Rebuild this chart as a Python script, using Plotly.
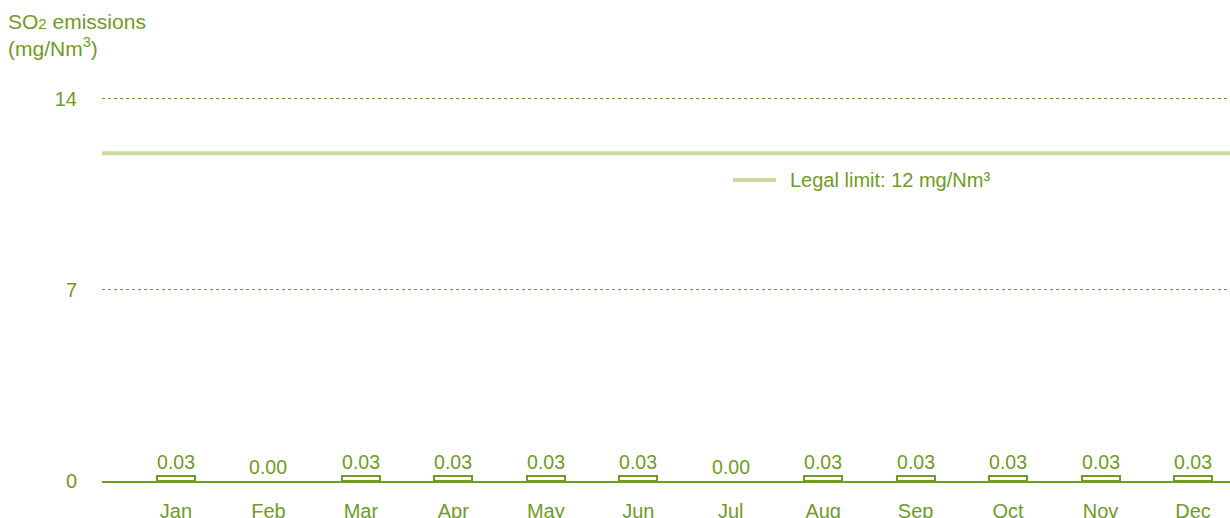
import plotly.graph_objects as go

months = ["Jan", "Feb", "Mar", "Apr", "May", "Jun", "Jul", "Aug", "Sep", "Oct", "Nov", "Dec"]
so2_values = [0.03, 0.00, 0.03, 0.03, 0.03, 0.03, 0.00, 0.03, 0.03, 0.03, 0.03, 0.03]
legal_limit = 12
y_ticks = [0, 7, 14]

GREEN = "#6f9b27"
LIGHT = "#c6dc9e"
FONT = "Liberation Sans, Arial, sans-serif"
FS = 20

xs = list(range(len(months)))
# minimum visible height so tiny values still show as an outlined bar
display_h = [max(v, 0.2) if v > 0 else 0 for v in so2_values]
line_w = [2 if v > 0 else 0 for v in so2_values]

fig = go.Figure()
fig.add_trace(go.Bar(
    x=xs, y=display_h, width=0.41,
    marker=dict(color="white", line=dict(color=GREEN, width=line_w)),
    text=[f"{v:.2f}" for v in so2_values], textposition="outside",
    textfont=dict(color=GREEN, size=FS, family=FONT),
    cliponaxis=False, showlegend=False, hoverinfo="skip",
))
x_range = [-0.80, 11.40]
fig.add_trace(go.Scatter(
    x=x_range, y=[legal_limit, legal_limit], mode="lines",
    line=dict(color=LIGHT, width=4), showlegend=False, hoverinfo="skip",
))

fig.update_layout(
    width=1230, height=518,
    margin=dict(l=102, r=0, t=96, b=37, autoexpand=False),
    paper_bgcolor="white", plot_bgcolor="white",
    font=dict(family=FONT, color=GREEN, size=FS),
    bargap=0,
    showlegend=False,
    xaxis=dict(range=x_range, tickmode="array", tickvals=xs, ticktext=months,
               automargin=False,
               showgrid=False, zeroline=False, showline=True, linecolor=GREEN, linewidth=2,
               ticks="outside", ticklen=11, tickcolor="rgba(0,0,0,0)",
               tickfont=dict(size=FS, color=GREEN, family=FONT), fixedrange=True),
    yaxis=dict(range=[0, 14.1], tickmode="array", tickvals=y_ticks, automargin=False,
               showgrid=True, gridcolor="#7a8f3a", griddash="dot", gridwidth=1,
               zeroline=False, showline=False, ticks="", ticklabelstandoff=24,
               tickfont=dict(size=FS, color=GREEN, family=FONT), fixedrange=True),
    shapes=[
        dict(type="line", xref="paper", yref="paper",
             x0=(733 - 102) / 1128, x1=(776 - 102) / 1128,
             y0=(481 - 180) / 385, y1=(481 - 180) / 385,
             line=dict(color=LIGHT, width=4)),
    ],
    annotations=[
        dict(xref="paper", yref="paper", x=(788 - 102) / 1128, y=(481 - 180) / 385,
             xanchor="left", yanchor="middle", showarrow=False,
             text="Legal limit: 12 mg/Nm³",
             font=dict(size=FS, color=GREEN, family=FONT)),
        dict(xref="paper", yref="paper", x=0, y=1, xshift=-96, yshift=88,
             xanchor="left", yanchor="top", align="left", showarrow=False,
             text='SO<span style="font-size:15px">2</span> emissions<br>(mg/Nm<sup>3</sup>)',
             font=dict(size=21, color=GREEN, family=FONT)),
    ],
)

fig.write_html("out.html")
